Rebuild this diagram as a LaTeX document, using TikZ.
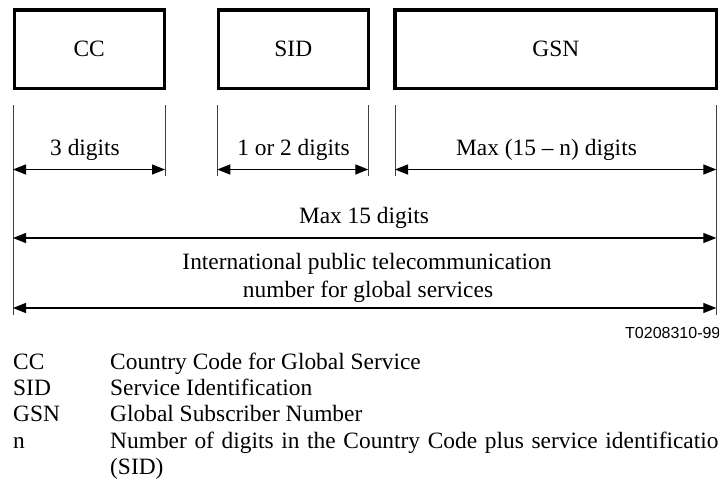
\documentclass[tikz,border=0pt]{standalone}
\usepackage{fontspec}
\setmainfont{Liberation Serif}
\newfontfamily\figsans{Liberation Sans}
\usetikzlibrary{arrows.meta}

\begin{document}
\begin{tikzpicture}[x=1bp,y=-1bp,
        field/.style={draw,line width=3.2bp,inner sep=0pt,minimum height=78.5bp},
        ext/.style={line width=0.9bp,black!75},
        dim/.style={line width=1.3bp,{Triangle[length=13bp,width=10bp]}-{Triangle[length=13bp,width=10bp]}},
        lbl/.style={inner sep=0pt,anchor=base},
        leg/.style={inner sep=0pt,anchor=base west},
        font=\fontsize{23.4bp}{26.3bp}\selectfont]
    \useasboundingbox (0,0) rectangle (719,486);
    %fields
    \node[field,minimum width=150bp] (cc) at (89.2,49.2) {CC};
    \node[field,minimum width=150bp] (sid) at (293.3,49.2) {SID};
    \node[field,minimum width=321.8bp] (gsn) at (555.8,49.2) {GSN};
    %extension lines
    \coordinate (e0t) at (13,105);    \coordinate (e0b) at (13,315);
    \coordinate (e1t) at (165,105);   \coordinate (e1b) at (165,176);
    \coordinate (e2t) at (217.3,105); \coordinate (e2b) at (217.3,176);
    \coordinate (e3t) at (368.3,105); \coordinate (e3b) at (368.3,176);
    \coordinate (e4t) at (395,105);   \coordinate (e4b) at (395,176);
    \coordinate (e5t) at (716.3,105); \coordinate (e5b) at (716.3,315);
    \draw[ext] (e0t) -- (e0b);
    \draw[ext] (e1t) -- (e1b);
    \draw[ext] (e2t) -- (e2b);
    \draw[ext] (e3t) -- (e3b);
    \draw[ext] (e4t) -- (e4b);
    \draw[ext] (e5t) -- (e5b);
    %digits per field
    \coordinate (a0) at (13,169.5);    \coordinate (a1) at (165,169.5);
    \coordinate (a2) at (217.3,169.5); \coordinate (a3) at (368.3,169.5);
    \coordinate (a4) at (395,169.5);   \coordinate (a5) at (716.3,169.5);
    \draw[dim] (a0) -- (a1);
    \draw[dim] (a2) -- (a3);
    \draw[dim] (a4) -- (a5);
    \node[lbl] (ccdig) at (85,156) {3 digits};
    \node[lbl] (siddig) at (293.5,156) {1 or 2 digits};
    \node[lbl] (gsndig) at (546.5,156) {Max (15 -- n) digits};
    %whole number
    \coordinate (m0) at (13,238);  \coordinate (m1) at (716.3,238);
    \coordinate (n0) at (13,308);  \coordinate (n1) at (716.3,308);
    \draw[dim] (m0) -- (m1);
    \draw[dim] (n0) -- (n1);
    \node[lbl] (maxdig) at (364,224) {Max 15 digits};
    \node[lbl] (intl1) at (367,270) {International public telecommunication};
    \node[lbl] (intl2) at (368,297) {number for global services};
    \node[inner sep=0pt,anchor=base west,font=\figsans\fontsize{16bp}{18bp}\selectfont] (fig) at (625,338) {T0208310-99};
    %legend
    \node[leg] (kcc) at (13,369.3) {CC};
    \node[leg] (ksid) at (13,395.6) {SID};
    \node[leg] (kgsn) at (13,421.9) {GSN};
    \node[leg] (kn) at (13,448.2) {n};
    \node[leg] (dcc) at (110,369.3) {Country Code for Global Service};
    \node[leg] (dsid) at (110,395.6) {Service Identification};
    \node[leg] (dgsn) at (110,421.9) {Global Subscriber Number};
    \node[leg] (dn) at (110,448.2) {\makebox[620bp][s]{Number of digits in the Country Code plus service identification}};
    \node[leg] (dn2) at (110,474.5) {(SID)};
\end{tikzpicture}
\end{document}
